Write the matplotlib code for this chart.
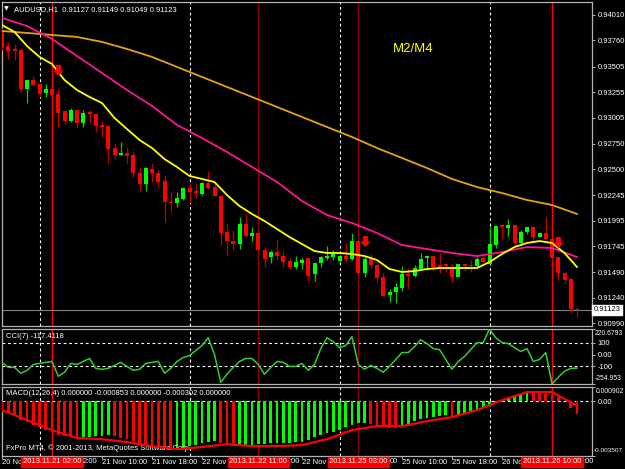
import matplotlib
matplotlib.use('Agg')
import matplotlib.pyplot as plt
import matplotlib.transforms as mtransforms
from matplotlib.path import Path
import numpy as np

plt.rcParams['font.family'] = ['Liberation Sans', 'DejaVu Sans']

# ---------------- data ----------------
first_bar = -8   # bar index of the first candle (bar 0 = 2013.11.21 02:00)
opens = [0.93844, 0.93706, 0.93677, 0.93667, 0.93285, 0.93373, 0.93334, 0.93246, 0.93285, 0.93236,
         0.93070, 0.92972, 0.93079, 0.92952, 0.93060, 0.93040, 0.92933, 0.92923, 0.92707, 0.92639,
         0.92658, 0.92639, 0.92462, 0.92355, 0.92501, 0.92462, 0.92384, 0.92178, 0.92168, 0.92208,
         0.92315, 0.92286, 0.92257, 0.92364, 0.92325, 0.92237, 0.91884, 0.91796, 0.91767, 0.91963,
         0.91845, 0.91875, 0.91708, 0.91639, 0.91688, 0.91649, 0.91600, 0.91541, 0.91580, 0.91630,
         0.91473, 0.91580, 0.91630, 0.91639, 0.91600, 0.91649, 0.91620, 0.91796, 0.91483, 0.91620,
         0.91561, 0.91444, 0.91267, 0.91296, 0.91336, 0.91473, 0.91453, 0.91522, 0.91630, 0.91649,
         0.91561, 0.91571, 0.91532, 0.91444, 0.91571, 0.91561, 0.91551, 0.91630, 0.91571, 0.91757,
         0.91953, 0.91923, 0.91953, 0.91777, 0.91884, 0.91933, 0.91835, 0.91875, 0.91816, 0.91639,
         0.91483, 0.91424, 0.91127]
highs = [0.93883, 0.93746, 0.93726, 0.93667, 0.93373, 0.93412, 0.93334, 0.93334, 0.93295, 0.93295,
         0.93070, 0.93099, 0.93079, 0.93079, 0.93079, 0.93040, 0.92972, 0.92933, 0.92746, 0.92766,
         0.92717, 0.92678, 0.92521, 0.92521, 0.92560, 0.92501, 0.92443, 0.92276, 0.92276, 0.92325,
         0.92364, 0.92364, 0.92374, 0.92482, 0.92374, 0.92247, 0.91963, 0.91904, 0.92031, 0.92071,
         0.91933, 0.91875, 0.91737, 0.91708, 0.91806, 0.91698, 0.91630, 0.91649, 0.91630, 0.91630,
         0.91590, 0.91649, 0.91747, 0.91708, 0.91659, 0.91777, 0.91875, 0.91796, 0.91649, 0.91669,
         0.91590, 0.91483, 0.91326, 0.91385, 0.91551, 0.91532, 0.91561, 0.91679, 0.91659, 0.91649,
         0.91679, 0.91580, 0.91580, 0.91571, 0.91571, 0.91610, 0.91639, 0.91630, 0.91933, 0.91943,
         0.91963, 0.92012, 0.91953, 0.91904, 0.91933, 0.91933, 0.91884, 0.92031, 0.91816, 0.91639,
         0.91492, 0.91434, 0.91149]
lows = [0.93667, 0.93579, 0.93569, 0.93246, 0.93148, 0.93324, 0.93207, 0.93207, 0.93226, 0.92913,
        0.92942, 0.92962, 0.92903, 0.92913, 0.92952, 0.92874, 0.92815, 0.92560, 0.92599, 0.92639,
        0.92560, 0.92423, 0.92286, 0.92286, 0.92374, 0.92325, 0.91982, 0.92080, 0.92129, 0.92198,
        0.92168, 0.92217, 0.92247, 0.92306, 0.92237, 0.91757, 0.91649, 0.91708, 0.91718, 0.91835,
        0.91796, 0.91708, 0.91541, 0.91580, 0.91610, 0.91541, 0.91522, 0.91522, 0.91522, 0.91404,
        0.91404, 0.91541, 0.91610, 0.91610, 0.91590, 0.91590, 0.91610, 0.91483, 0.91444, 0.91532,
        0.91385, 0.91257, 0.91199, 0.91189, 0.91306, 0.91326, 0.91444, 0.91522, 0.91512, 0.91512,
        0.91483, 0.91492, 0.91395, 0.91444, 0.91502, 0.91492, 0.91541, 0.91590, 0.91571, 0.91728,
        0.91816, 0.91845, 0.91747, 0.91757, 0.91865, 0.91786, 0.91835, 0.91816, 0.91610, 0.91414,
        0.91385, 0.91091, 0.91049]
closes = [0.93687, 0.93657, 0.93657, 0.93285, 0.93373, 0.93324, 0.93236, 0.93285, 0.93226, 0.93050,
          0.92972, 0.93079, 0.92952, 0.93050, 0.93040, 0.92923, 0.92913, 0.92697, 0.92639, 0.92658,
          0.92629, 0.92462, 0.92355, 0.92511, 0.92462, 0.92374, 0.92178, 0.92168, 0.92217, 0.92315,
          0.92276, 0.92266, 0.92364, 0.92315, 0.92237, 0.91875, 0.91796, 0.91767, 0.91963, 0.91845,
          0.91875, 0.91708, 0.91620, 0.91688, 0.91649, 0.91590, 0.91541, 0.91590, 0.91610, 0.91453,
          0.91580, 0.91639, 0.91649, 0.91688, 0.91649, 0.91620, 0.91796, 0.91483, 0.91620, 0.91561,
          0.91434, 0.91257, 0.91296, 0.91345, 0.91473, 0.91453, 0.91532, 0.91620, 0.91649, 0.91541,
          0.91541, 0.91551, 0.91444, 0.91571, 0.91551, 0.91551, 0.91620, 0.91590, 0.91767, 0.91943,
          0.91933, 0.91953, 0.91777, 0.91884, 0.91933, 0.91835, 0.91875, 0.91816, 0.91630, 0.91483,
          0.91414, 0.91127, 0.91123]

# moving averages (read every 2 / 4 bars)
ma_fast_bars = list(range(-8, 85, 2))
ma_fast = [0.93912, 0.93844, 0.93706, 0.93599, 0.93530, 0.93373, 0.93275, 0.93207, 0.93148, 0.93001,
           0.92893, 0.92786, 0.92707, 0.92599, 0.92521, 0.92433, 0.92404, 0.92374, 0.92247, 0.92139,
           0.92061, 0.91992, 0.91914, 0.91835, 0.91767, 0.91698, 0.91679, 0.91679, 0.91669, 0.91649,
           0.91610, 0.91522, 0.91493, 0.91502, 0.91522, 0.91532, 0.91532, 0.91532, 0.91532, 0.91590,
           0.91669, 0.91737, 0.91777, 0.91796, 0.91777, 0.91679, 0.91542]
ma_mid_bars = list(range(-8, 85, 4))
ma_mid = [0.93981, 0.93902, 0.93775, 0.93608, 0.93442, 0.93275, 0.93119, 0.92933, 0.92805, 0.92668,
          0.92521, 0.92374, 0.92188, 0.92051, 0.91973, 0.91875, 0.91757, 0.91718, 0.91679, 0.91649,
          0.91688, 0.91737, 0.91728, 0.91639]
ma_slow_bars = list(range(-8, 85, 4))
ma_slow = [0.93853, 0.93834, 0.93814, 0.93795, 0.93746, 0.93677, 0.93599, 0.93501, 0.93403, 0.93305,
           0.93207, 0.93109, 0.93011, 0.92913, 0.92815, 0.92707, 0.92609, 0.92511, 0.92404, 0.92325,
           0.92266, 0.92198, 0.92149, 0.92061]

arrow_bars = [1, 50, 81]
arrow_prices = [0.93471, 0.91796, 0.91786]

price_ticks = [0.94010, 0.93760, 0.93505, 0.93255, 0.93005, 0.92750, 0.92500, 0.92245,
               0.91995, 0.91745, 0.91490, 0.91240, 0.90990]
last_price = 0.91123

cci = [-68, -111, -111, -162, -137, -86, -77, -68, -60, -188, -154, -77, -86, -60, -34, -120,
       -128, -120, -94, -68, -103, -137, -128, -77, -68, -60, -162, -120, -60, -26, -9, 34, 77,
       145, 0, -240, -171, -111, -60, -34, -34, -86, -171, -111, -60, -68, -103, -103, -77, -137,
       -86, 51, 145, 111, 60, 77, 154, -86, -128, -94, -120, -154, -103, -43, 17, 17, 68, 128, 94,
       51, 43, -43, -128, -60, -17, 43, 103, 103, 220.6793, 145, 103, 94, 60, 26, 51, -60, -43, 17,
       -254.953, -197, -145, -120, -117.4118]
cci_max, cci_min = 220.6793, -254.953

macd_hist = [-0.000703, -0.000767, -0.000895, -0.001214, -0.001342, -0.001534, -0.001661, -0.001853,
             -0.001981, -0.002173, -0.002205, -0.002300, -0.002332,
             -0.002300, -0.002268, -0.002237, -0.002205, -0.002173,
             -0.002237, -0.002332, -0.002428, -0.002556, -0.002684, -0.002780, -0.002876, -0.002971,
             -0.003067, -0.003131,
             -0.003067, -0.002971, -0.002876, -0.002780, -0.002684, -0.002620, -0.002556,
             -0.002684, -0.002812, -0.002876,
             -0.002844, -0.002812, -0.002780, -0.002748, -0.002716, -0.002684, -0.002671, -0.002658,
             -0.002645, -0.002633,
             -0.002620, -0.002492, -0.002300, -0.002173, -0.002045, -0.001981, -0.001853, -0.001661,
             -0.001534, -0.001406, -0.001374,
             -0.001470, -0.001534, -0.001661, -0.001693, -0.001725,
             -0.001661, -0.001598, -0.001278, -0.001150, -0.001086, -0.001022, -0.000958, -0.000895,
             -0.001022,
             -0.000895, -0.000767, -0.000703, -0.000575, -0.000447, -0.000256, -0.000128, -0.000032,
             0.000192, 0.000320, 0.000447, 0.000575,
             0.000543, 0.000511, 0.000479, 0.000383, 0.000256, -0.000010, -0.000447, -0.000853]
macd_signal_bars = list(range(-8, 85, 4))
macd_signal = [-0.000575, -0.001214, -0.001853, -0.002364, -0.002428, -0.002620, -0.002876, -0.003067,
               -0.002939, -0.002748, -0.002876, -0.002876, -0.002812, -0.002428, -0.001853, -0.001598,
               -0.001598, -0.001278, -0.001022, -0.000575, 0.000064, 0.000575, 0.000575, -0.000302]
macd_max, macd_min = 0.000902, -0.003507

time_tick_bars = [-8, 0, 8, 16, 24, 32, 40, 48, 56, 64, 72, 80]
# visible part of each time label (the rest is hidden behind the red date boxes)
time_tick_labels = ['20 No', '', '21 Nov 10:00', '21 Nov 18:00', '22 Nov', '', '22 Nov', '',
                    '25 Nov 10:00', '25 Nov 18:00', '26 No', '']
day_sep_bars = [-2, 22, 46, 70]
mark_bars = [0, 33, 49, 80]
mark_labels = ['2013.11.21 02:00', '2013.11.22 11:00', '2013.11.25 03:00', '2013.11.26 10:00']
mark_tails = ['2:00', ':00', '00', ':00']
mark_colors = ['#FF0000', '#8B0000', '#8B0000', '#FF0000']

# ---------------- figure ----------------
W, H = 625, 469
fig = plt.figure(figsize=(W / 100, H / 100), dpi=100, facecolor='black')


def rect(x0, y0, x1, y1):
    return [x0 / W, 1 - y1 / H, (x1 - x0) / W, (y1 - y0) / H]


ax = fig.add_axes(rect(2, 2, 592, 326))
ax_cci = fig.add_axes(rect(2, 329, 592, 384), sharex=ax)
ax_macd = fig.add_axes(rect(2, 387, 592, 456), sharex=ax)

FS = 5.5
FS_SMALL = 4.9
GREY = '#B4B4B4'
for a in (ax, ax_cci, ax_macd):
    a.set_facecolor('black')
    for s in a.spines.values():
        s.set_color(GREY)
        s.set_linewidth(0.9)
    a.yaxis.tick_right()
    a.tick_params(axis='y', colors=GREY, labelcolor='white', labelsize=FS, length=2.5, pad=1.5, width=0.7)
    a.tick_params(axis='x', bottom=False, labelbottom=False)
    for b in day_sep_bars:
        a.axvline(b, color='white', lw=0.8, ls=(0, (2.5, 2.5)), zorder=1)
    for b, c in zip(mark_bars, mark_colors):
        a.axvline(b, color=c, lw=1.0, zorder=1.5)

n = len(opens)
bars = np.arange(first_bar, first_bar + n)
ax.set_xlim(-8, 86.4)

# ---- main panel ----
o = np.array(opens); c = np.array(closes); h = np.array(highs); l = np.array(lows)
up = c >= o
ax.vlines(bars[up], l[up], h[up], color='#00D000', lw=0.9, zorder=3)
ax.vlines(bars[~up], l[~up], h[~up], color='#C00000', lw=0.9, zorder=3)
body_lo = np.minimum(o, c)
body_h = np.maximum(np.abs(c - o), 0.00007)
ax.bar(bars[up], body_h[up], bottom=body_lo[up], width=0.64, color='#00FF00', lw=0, zorder=4)
ax.bar(bars[~up], body_h[~up], bottom=body_lo[~up], width=0.64, color='#FF0000', lw=0, zorder=4)

ax.plot(ma_slow_bars, ma_slow, color='#E6A11A', lw=1.3, zorder=5)
ax.plot(ma_mid_bars, ma_mid, color='#FF1493', lw=1.3, zorder=5)
ax.plot(ma_fast_bars, ma_fast, color='#FFFF00', lw=1.3, zorder=5)

arrow = Path([(-0.22, 0.5), (0.22, 0.5), (0.22, 0.0), (0.5, 0.0), (0.0, -0.5), (-0.5, 0.0),
              (-0.22, 0.0), (-0.22, 0.5)],
             [Path.MOVETO] + [Path.LINETO] * 6 + [Path.CLOSEPOLY])
ax.plot(arrow_bars, arrow_prices, ls='none', marker=arrow, markersize=8, color='#FF0000',
        markeredgewidth=0, zorder=6)

ax.axhline(last_price, color='#808080', lw=0.8, zorder=2)
ax.set_ylim(0.90964, 0.94137)
ax.set_yticks(price_ticks)
ax.set_yticklabels([f'{p:.5f}' for p in price_ticks])
trans = mtransforms.blended_transform_factory(ax.transAxes, ax.transData)
ax.text(1.003, last_price, f'{last_price:.5f}', transform=trans, ha='left', va='center',
        fontsize=FS, color='black', clip_on=False, zorder=10,
        bbox=dict(boxstyle='square,pad=0.2', fc='white', ec='white'))

ax.text(0.004, 0.978, '\u25bc', transform=ax.transAxes, fontsize=4.5, color='white',
        ha='left', va='center', family=['DejaVu Sans'])
ax.text(0.02, 0.978, 'AUDUSD,H1  0.91127 0.91149 0.91049 0.91123', transform=ax.transAxes,
        fontsize=FS, color='white', ha='left', va='center')
ax.text(0.663, 0.855, 'M2/M4', transform=ax.transAxes, fontsize=9.5, color='#FFFF00',
        ha='left', va='center')

# ---- CCI panel ----
ax_cci.plot(bars, cci, color='#32CD32', lw=1.1, zorder=4)
ax_cci.set_ylim(cci_min, cci_max)
for lv in (100, -100):
    ax_cci.axhline(lv, color='white', lw=0.8, ls=(0, (2.5, 2.5)), zorder=1)
ax_cci.set_yticks([cci_max, 100, 0, -100, cci_min])
ax_cci.set_yticklabels(['', '100', '0.00', '-100', ''])
ax_cci.text(1.005, 0.99, f'{cci_max:.4f}', transform=ax_cci.transAxes, fontsize=FS_SMALL,
            color='white', ha='left', va='top', clip_on=False)
ax_cci.text(1.005, 0.03, f'{cci_min:.3f}', transform=ax_cci.transAxes, fontsize=FS_SMALL,
            color='white', ha='left', va='bottom', clip_on=False)
ax_cci.text(0.006, 0.87, 'CCI(7) -117.4118', transform=ax_cci.transAxes, fontsize=FS,
            color='white', ha='left', va='center')

# ---- MACD panel ----
hist = np.array(macd_hist)
rising = np.r_[False, hist[1:] > hist[:-1]]
ax_macd.bar(bars[rising], hist[rising], width=0.45, color='#00FF00', lw=0, zorder=3)
ax_macd.bar(bars[~rising], hist[~rising], width=0.45, color='#FF0000', lw=0, zorder=3)
ax_macd.plot(macd_signal_bars, macd_signal, color='#FF0000', lw=1.6, zorder=4)
ax_macd.axhline(0, color='white', lw=0.8, ls=(0, (2.5, 2.5)), zorder=2)
ax_macd.set_ylim(macd_min, macd_max)
ax_macd.set_yticks([macd_max, 0, macd_min])
ax_macd.set_yticklabels(['', '0.00', ''])
ax_macd.text(1.006, 0.99, f'{macd_max:.6f}', transform=ax_macd.transAxes, fontsize=FS_SMALL,
             color='white', ha='left', va='top', clip_on=False)
ax_macd.text(1.003, 0.05, f'{macd_min:.6f}', transform=ax_macd.transAxes, fontsize=4.6,
             color='white', ha='left', va='bottom', clip_on=False)
ax_macd.text(0.006, 0.91, 'MACD(12,26,4) 0.000000 -0.000853 0.000000 -0.000302 0.000000',
             transform=ax_macd.transAxes, fontsize=FS, color='white', ha='left', va='center')
ax_macd.text(0.006, 0.11, 'FxPro MT4, \u00a9 2001-2013, MetaQuotes Software Corp.',
             transform=ax_macd.transAxes, fontsize=FS, color='white', ha='left', va='center')

# time axis
ax_macd.tick_params(axis='x', bottom=True, labelbottom=True, colors=GREY, labelcolor='white',
                    labelsize=FS, length=2, pad=0.5, width=0.7)
ax_macd.set_xticks(time_tick_bars)
ax_macd.set_xticklabels(time_tick_labels)
for lbl in ax_macd.get_xticklabels():
    lbl.set_ha('left')
ax_macd.set_xlim(-8, 86.4)

tx = mtransforms.blended_transform_factory(ax_macd.transData, ax_macd.transAxes)
boxes = []
for b, t in zip(mark_bars, mark_labels):
    boxes.append(ax_macd.text(b, -0.085, t, transform=tx, ha='center', va='center', fontsize=FS,
                              color='white', clip_on=False, zorder=10,
                              bbox=dict(boxstyle='square,pad=0.2', fc='#FF0000', ec='#FF0000')))

# visible tails of the labels partly hidden behind the boxes
fig.canvas.draw()
renderer = fig.canvas.get_renderer()
for box, tail in zip(boxes, mark_tails):
    bb = box.get_bbox_patch().get_window_extent(renderer)
    tb = box.get_window_extent(renderer)
    fig.text(bb.x1 / fig.bbox.width + 0.0005, (tb.y0 + tb.y1) / 2 / fig.bbox.height, tail,
             ha='left', va='center', fontsize=FS, color='white')

fig.savefig('out.png', dpi=100, facecolor='black')
